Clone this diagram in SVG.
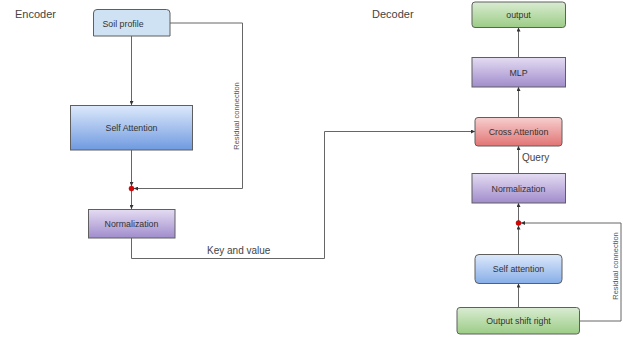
<svg xmlns="http://www.w3.org/2000/svg" width="623" height="339" viewBox="0 0 623 339">
<defs>
<linearGradient id="gBlue" x1="0" y1="0" x2="0" y2="1"><stop offset="0" stop-color="#dde9fb"/><stop offset="1" stop-color="#6f9ae0"/></linearGradient>
<linearGradient id="gBlue2" x1="0" y1="0" x2="0" y2="1"><stop offset="0" stop-color="#dde9fb"/><stop offset="1" stop-color="#86aee8"/></linearGradient>
<linearGradient id="gPurple" x1="0" y1="0" x2="0" y2="1"><stop offset="0" stop-color="#e4dcf2"/><stop offset="1" stop-color="#a08ccc"/></linearGradient>
<linearGradient id="gGreen" x1="0" y1="0" x2="0" y2="1"><stop offset="0" stop-color="#d9ecd2"/><stop offset="1" stop-color="#9ccc86"/></linearGradient>
<linearGradient id="gRed" x1="0" y1="0" x2="0" y2="1"><stop offset="0" stop-color="#f7cfcf"/><stop offset="1" stop-color="#e27474"/></linearGradient>
<marker id="arr" viewBox="0 0 6 6" refX="6" refY="3" markerWidth="4" markerHeight="4" orient="auto" markerUnits="userSpaceOnUse"><path d="M0,0 L6,3 L0,6 z" fill="#333"/></marker>
</defs>
<style>
.box{stroke:#5f5f5f;stroke-width:1}
.t{font-family:"Liberation Sans",Arial,sans-serif;font-size:8.8px;fill:#333;text-anchor:middle;dominant-baseline:central}
.lbl{font-family:"Liberation Sans",Arial,sans-serif;font-size:11px;fill:#444}
.rl{font-family:"Liberation Sans",Arial,sans-serif;font-size:7.5px;fill:#555;text-anchor:middle;dominant-baseline:central}
.c{fill:none;stroke:#666;stroke-width:1}
.a{marker-end:url(#arr)}
.dot{fill:#e00000;stroke:#800;stroke-width:0.5}
</style>
<rect width="623" height="339" fill="#ffffff"/>
<text class="lbl" x="15" y="18">Encoder</text>
<text class="lbl" x="372" y="18">Decoder</text>

<g id="connectors">
<line class="c a" x1="131.5" y1="36" x2="131.5" y2="105"/>
<line class="c a" x1="131.5" y1="150" x2="131.5" y2="186"/>
<line class="c a" x1="131.5" y1="191" x2="131.5" y2="209"/>
<polyline class="c a" points="170,23 242.5,23 242.5,188.5 134,188.5"/>
<polyline class="c a" points="131.5,238 131.5,258.5 324.5,258.5 324.5,131.5 475,131.5"/>
<line class="c a" x1="518.5" y1="57.5" x2="518.5" y2="27.5"/>
<line class="c a" x1="518.5" y1="117.5" x2="518.5" y2="87"/>
<line class="c a" x1="518.5" y1="173.5" x2="518.5" y2="146"/>
<line class="c a" x1="518.5" y1="221" x2="518.5" y2="203"/>
<line class="c a" x1="518.5" y1="254.5" x2="518.5" y2="225.5"/>
<line class="c a" x1="518.5" y1="307.5" x2="518.5" y2="283.5"/>
<polyline class="c a" points="579.5,321 621,321 621,223 521,223"/>
<circle class="dot" cx="131.5" cy="188.5" r="2.5"/>
<circle class="dot" cx="518.5" cy="223" r="2.5"/>
<text class="rl" transform="translate(236.5,116) rotate(-90)">Residual connection</text>
<text class="rl" transform="translate(615.5,266) rotate(-90)">Residual connection</text>
<text class="lbl" x="207" y="254" style="font-size:10px">Key and value</text>
<text class="lbl" x="522" y="161" style="font-size:10px">Query</text>
</g>

<g id="soil-profile">
<path class="box" d="M93.5,36 L93.5,13 Q93.5,9.5 97,9.5 L166.5,9.5 Q170,9.5 170,13 L170,36 Z" fill="#cfe2f3"/>
<text class="t" x="123" y="23.5">Soil profile</text>
</g>
<g id="self-attention-enc">
<rect class="box" x="70.5" y="105.5" width="122" height="44.5" fill="url(#gBlue)"/>
<text class="t" x="131.5" y="128">Self Attention</text>
</g>
<g id="normalization-enc">
<rect class="box" x="88.5" y="209.5" width="86.5" height="28.5" fill="url(#gPurple)"/>
<text class="t" x="131.5" y="224">Normalization</text>
</g>
<g id="output">
<rect class="box" x="472" y="2" width="93.5" height="25.5" rx="3" fill="url(#gGreen)"/>
<text class="t" x="518.5" y="15">output</text>
</g>
<g id="mlp">
<rect class="box" x="472" y="57.5" width="93.5" height="29.5" fill="url(#gPurple)"/>
<text class="t" x="518.5" y="72.5">MLP</text>
</g>
<g id="cross-attention">
<rect class="box" x="475" y="117.5" width="87" height="28.5" rx="3" fill="url(#gRed)"/>
<text class="t" x="518.5" y="132">Cross Attention</text>
</g>
<g id="normalization-dec">
<rect class="box" x="472" y="173.5" width="93.5" height="29.5" fill="url(#gPurple)"/>
<text class="t" x="518.5" y="188.5">Normalization</text>
</g>
<g id="self-attention-dec">
<rect class="box" x="475" y="254.5" width="87" height="29" rx="4" fill="url(#gBlue2)"/>
<text class="t" x="518.5" y="269">Self attention</text>
</g>
<g id="output-shift-right">
<rect class="box" x="457" y="307.5" width="122.5" height="26.5" rx="3" fill="url(#gGreen)"/>
<text class="t" x="518.5" y="321">Output shift right</text>
</g>
</svg>
